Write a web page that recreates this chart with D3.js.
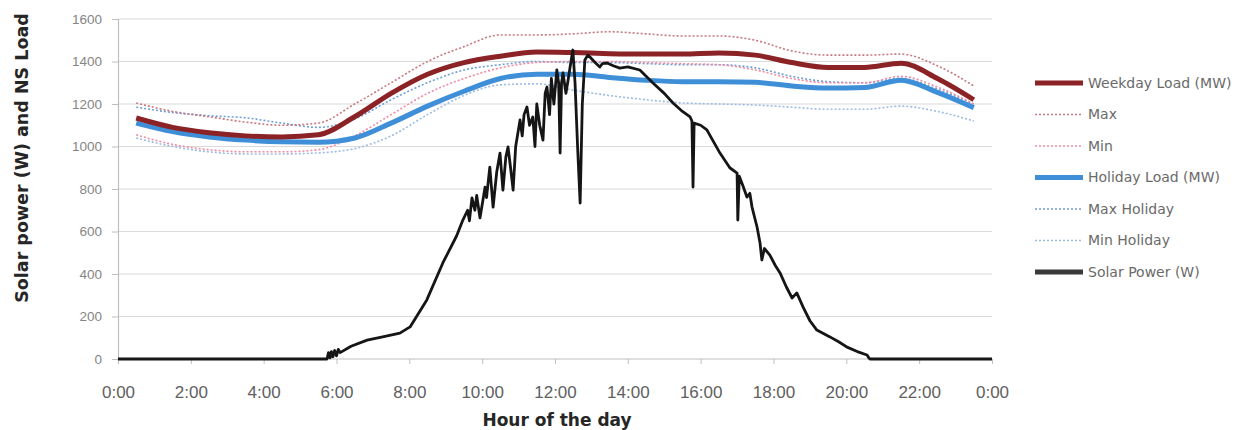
<!DOCTYPE html>
<html>
<head>
<meta charset="utf-8">
<script src="https://cdn.jsdelivr.net/npm/d3@7"></script>
<style>
  body { margin: 0; background: #fff; }
  svg { display: block; font-family: "DejaVu Sans", sans-serif; }
</style>
</head>
<body>
<div id="chart"></div>
<script>
// half-hour marks where the load profiles were sampled
const loadHours = [0.5, 1.5, 2.5, 3.5, 4.5, 5.5, 6.5, 7.5, 8.5, 9.5, 10.5, 11.5,
                   12.5, 13.5, 14.5, 15.5, 16.5, 17.5, 18.5, 19.5, 20.5, 21.5, 22.5, 23.5]

const weekdayLoad = [1134, 1090, 1065, 1050, 1045, 1055, 1140, 1250, 1340, 1395, 1425, 1445,
                     1442, 1437, 1435, 1435, 1440, 1430, 1395, 1372, 1372, 1392, 1320, 1220]
const weekdayMax  = [1205, 1165, 1140, 1115, 1100, 1110, 1200, 1300, 1400, 1470, 1525, 1525,
                     1530, 1540, 1530, 1520, 1520, 1500, 1450, 1430, 1430, 1435, 1380, 1285]
const weekdayMin  = [1055, 1010, 985, 975, 975, 985, 1050, 1150, 1250, 1320, 1370, 1395,
                     1400, 1400, 1395, 1390, 1385, 1360, 1320, 1300, 1300, 1330, 1280, 1200]
const holidayLoad = [1110, 1070, 1045, 1030, 1022, 1020, 1040, 1110, 1190, 1260, 1320, 1340,
                     1340, 1325, 1312, 1305, 1305, 1302, 1285, 1275, 1278, 1312, 1255, 1183]
const holidayMax  = [1185, 1160, 1145, 1135, 1110, 1090, 1130, 1220, 1300, 1360, 1385, 1400,
                     1395, 1395, 1390, 1385, 1385, 1370, 1330, 1305, 1300, 1320, 1270, 1200]
const holidayMin  = [1040, 1000, 975, 965, 965, 970, 990, 1050, 1150, 1240, 1290, 1295,
                     1265, 1240, 1220, 1205, 1200, 1195, 1185, 1175, 1175, 1190, 1165, 1120]

// [hour, W]
const solarPower = [
  [0, 0], [5.74, 0], [5.78, 30], [5.82, 5], [5.86, 35], [5.9, 10], [5.95, 40], [6.0, 15],
  [6.05, 45], [6.1, 30], [6.4, 60], [6.84, 89], [7.3, 105], [7.74, 122], [8.02, 151],
  [8.48, 278], [8.92, 452], [9.3, 580], [9.47, 654], [9.6, 700], [9.65, 650], [9.72, 758],
  [9.8, 700], [9.85, 770], [9.94, 664], [10.08, 809], [10.12, 760], [10.21, 903], [10.3, 715],
  [10.4, 880], [10.49, 969], [10.57, 795], [10.65, 950], [10.71, 998], [10.78, 900],
  [10.85, 795], [10.92, 1000], [11.04, 1125], [11.1, 1050], [11.15, 1150], [11.23, 1186],
  [11.3, 1100], [11.39, 1139], [11.45, 1000], [11.5, 1200], [11.58, 1100], [11.67, 1030],
  [11.73, 1250], [11.78, 1280], [11.85, 1150], [11.9, 1320], [11.97, 1200], [12.05, 1360],
  [12.1, 1300], [12.14, 969], [12.18, 1300], [12.22, 1346], [12.3, 1250], [12.36, 1313],
  [12.42, 1380], [12.49, 1454], [12.55, 1300], [12.62, 1000], [12.69, 734], [12.75, 1200],
  [12.82, 1407], [12.9, 1430], [12.96, 1421], [13.1, 1395], [13.23, 1374], [13.3, 1390],
  [13.43, 1393], [13.6, 1380], [13.78, 1369], [14.0, 1375], [14.33, 1360], [14.69, 1299],
  [15.0, 1250], [15.24, 1205], [15.5, 1165], [15.71, 1139], [15.76, 1120], [15.79, 809],
  [15.82, 1110], [16.0, 1100], [16.17, 1078], [16.53, 969], [16.8, 900], [17.0, 875],
  [17.02, 654], [17.06, 860], [17.15, 820], [17.27, 762], [17.35, 780], [17.41, 715],
  [17.55, 620], [17.63, 546], [17.68, 466], [17.75, 520], [17.9, 489], [18.05, 440],
  [18.18, 405], [18.35, 340], [18.51, 287], [18.64, 311], [18.81, 245], [19.0, 180],
  [19.19, 136], [19.55, 104], [19.8, 80], [20.02, 56], [20.3, 35], [20.57, 19], [20.62, 5],
  [20.65, 0], [24, 0]
]

const yTicks = [0, 200, 400, 600, 800, 1000, 1200, 1400, 1600]
const xTicks = [0, 2, 4, 6, 8, 10, 12, 14, 16, 18, 20, 22, 24]
const xTickLabels = ['0:00', '2:00', '4:00', '6:00', '8:00', '10:00', '12:00',
                     '14:00', '16:00', '18:00', '20:00', '22:00', '0:00']
const legendNames = ['Weekday Load (MW)', 'Max', 'Min', 'Holiday Load (MW)',
                     'Max Holiday', 'Min Holiday', 'Solar Power (W)']

const width = 1245
const height = 430
const plot = {left: 118, right: 992, top: 19, bottom: 359}

const x = d3.scaleLinear().domain([0, 24]).range([plot.left, plot.right])
const y = d3.scaleLinear().domain([0, 1600]).range([plot.bottom, plot.top])

const svg = d3.select('#chart')
    .append('svg')
    .attr('width', width)
    .attr('height', height)

// gridlines
svg.append('g')
    .selectAll('line')
    .data(yTicks)
    .enter().append('line')
    .attr('x1', plot.left)
    .attr('x2', plot.right)
    .attr('y1', d => y(d))
    .attr('y2', d => y(d))
    .attr('stroke', d => d == 0 ? '#bfbfbf' : '#dadada')
    .attr('stroke-width', 1.2)

// axes
const yAxis = svg.append('g')
    .attr('transform', `translate(${plot.left},0)`)
    .call(d3.axisLeft(y).tickValues(yTicks).tickFormat(d3.format('d'))
        .tickSize(6).tickPadding(10))
yAxis.select('.domain').attr('stroke', '#bfbfbf').attr('stroke-width', 1.2)
yAxis.selectAll('.tick line').attr('stroke', '#bfbfbf')
yAxis.selectAll('text')
    .attr('fill', '#858585')
    .style('font-size', '13.5px')

const xAxis = svg.append('g')
    .attr('transform', `translate(0,${plot.bottom})`)
    .call(d3.axisBottom(x).tickValues(xTicks)
        .tickFormat((d, i) => xTickLabels[i])
        .tickSize(5).tickPadding(22))
xAxis.select('.domain').remove()
xAxis.selectAll('.tick line').attr('stroke', '#bfbfbf')
xAxis.selectAll('text')
    .attr('fill', '#606060')
    .style('font-size', '17px')

// axis titles
svg.append('text')
    .attr('transform', 'translate(28,158) rotate(-90)')
    .attr('text-anchor', 'middle')
    .attr('fill', '#262626')
    .style('font-size', '17.5px')
    .style('font-weight', 'bold')
    .text('Solar power (W) and NS Load')

svg.append('text')
    .attr('x', 557)
    .attr('y', 426)
    .attr('text-anchor', 'middle')
    .attr('fill', '#262626')
    .style('font-size', '17px')
    .style('font-weight', 'bold')
    .text('Hour of the day')

// series, in legend order
const series = [
    {name: legendNames[0], values: weekdayLoad, color: '#8b2226', width: 5, dash: null},
    {name: legendNames[1], values: weekdayMax, color: '#c77880', width: 1.6, dash: '2,2'},
    {name: legendNames[2], values: weekdayMin, color: '#f08ca2', width: 1.6, dash: '2,2'},
    {name: legendNames[3], values: holidayLoad, color: '#3e8fd8', width: 5, dash: null},
    {name: legendNames[4], values: holidayMax, color: '#6f9fd8', width: 1.6, dash: '2,2'},
    {name: legendNames[5], values: holidayMin, color: '#9dbbe2', width: 1.6, dash: '2,2'},
]

const loadLine = d3.line()
    .x((d, i) => x(loadHours[i]))
    .y(d => y(d))
    .curve(d3.curveMonotoneX)

const drawOrder = [5, 4, 2, 1, 3, 0]
drawOrder.forEach(function(k) {
    let s = series[k]
    svg.append('path')
        .datum(s.values)
        .attr('fill', 'none')
        .attr('stroke', s.color)
        .attr('stroke-width', s.width)
        .attr('stroke-dasharray', s.dash)
        .attr('stroke-linejoin', 'round')
        .attr('d', loadLine)
})

const solarLine = d3.line()
    .x(d => x(d[0]))
    .y(d => y(d[1]))

svg.append('path')
    .datum(solarPower)
    .attr('fill', 'none')
    .attr('stroke', '#151515')
    .attr('stroke-width', 2.8)
    .attr('stroke-linejoin', 'round')
    .attr('d', solarLine)

// legend
const legendStyles = series.concat([{color: '#3a3a3a', width: 5, dash: null}])
const legend = svg.append('g')
    .selectAll('g')
    .data(legendNames)
    .enter().append('g')
    .attr('transform', (d, i) => `translate(1035,${83 + i * 31.5})`)

legend.append('line')
    .attr('x1', 0)
    .attr('x2', 48)
    .attr('stroke', (d, i) => legendStyles[i].color)
    .attr('stroke-width', (d, i) => legendStyles[i].width)
    .attr('stroke-dasharray', (d, i) => legendStyles[i].dash)

legend.append('text')
    .attr('x', 53)
    .attr('dy', '0.35em')
    .attr('fill', '#6a6a6a')
    .style('font-size', '14px')
    .text(d => d)
</script>
</body>
</html>
